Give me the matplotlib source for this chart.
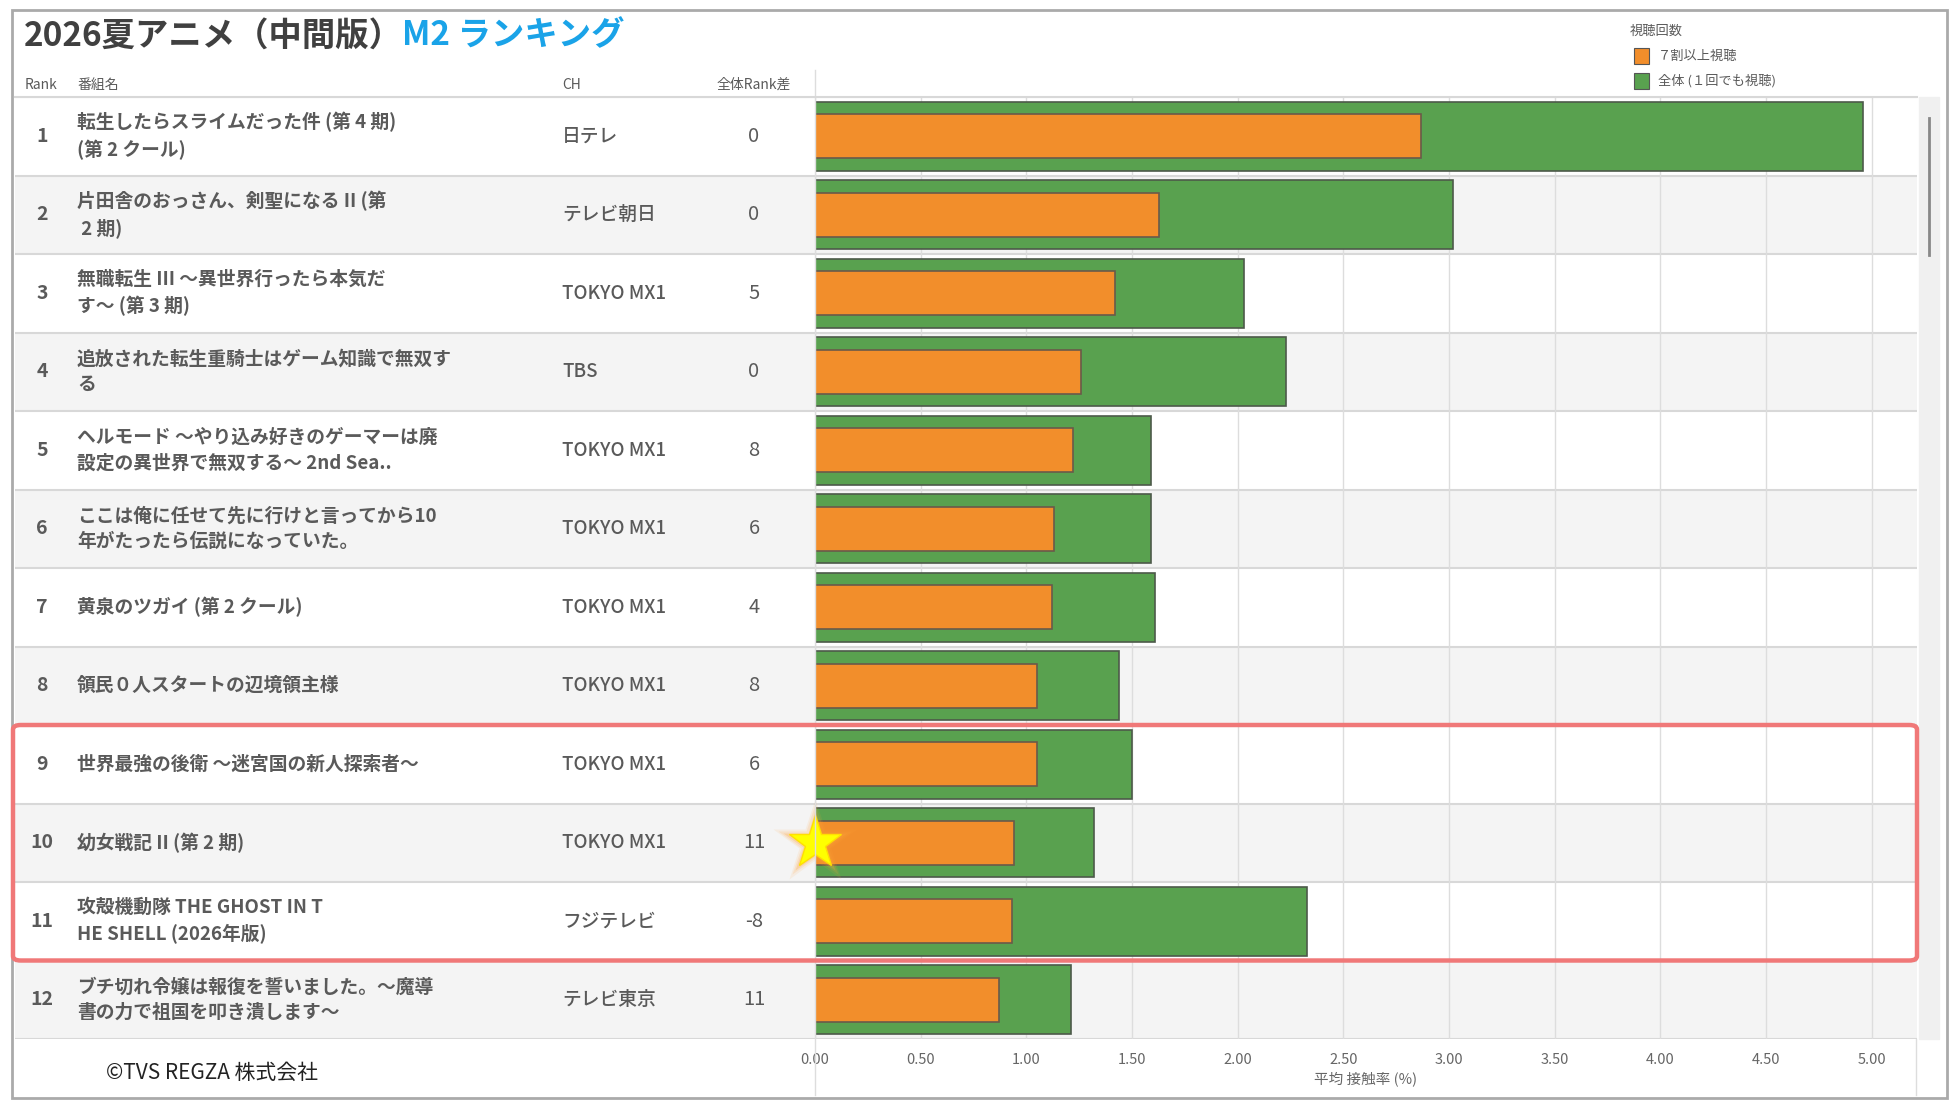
import matplotlib.pyplot as plt
from matplotlib.patches import FancyBboxPatch, Rectangle
from matplotlib.lines import Line2D

plt.rcParams['font.family'] = ['Noto Sans CJK JP', 'DejaVu Sans']

# ---- data ----
ranks = [1, 2, 3, 4, 5, 6, 7, 8, 9, 10, 11, 12]
titles = [
    "転生したらスライムだった件 (第 4 期)\n(第 2 クール)",
    "片田舎のおっさん、剣聖になる II (第\n 2 期)",
    "無職転生 III ～異世界行ったら本気だ\nす～ (第 3 期)",
    "追放された転生重騎士はゲーム知識で無双す\nる",
    "ヘルモード ～やり込み好きのゲーマーは廃\n設定の異世界で無双する～ 2nd Sea..",
    "ここは俺に任せて先に行けと言ってから10\n年がたったら伝説になっていた。",
    "黄泉のツガイ (第 2 クール)",
    "領民０人スタートの辺境領主様",
    "世界最強の後衛 ～迷宮国の新人探索者～",
    "幼女戦記 II (第 2 期)",
    "攻殻機動隊 THE GHOST IN T\nHE SHELL (2026年版)",
    "ブチ切れ令嬢は報復を誓いました。～魔導\n書の力で祖国を叩き潰します～",
]
channels = ["日テレ", "テレビ朝日", "TOKYO MX1", "TBS", "TOKYO MX1", "TOKYO MX1",
            "TOKYO MX1", "TOKYO MX1", "TOKYO MX1", "TOKYO MX1", "フジテレビ", "テレビ東京"]
rank_diff = [0, 0, 5, 0, 8, 6, 4, 8, 6, 11, -8, 11]
rate_70 = [2.87, 1.63, 1.42, 1.26, 1.22, 1.13, 1.12, 1.05, 1.05, 0.94, 0.93, 0.87]
rate_all = [4.96, 3.02, 2.03, 2.23, 1.59, 1.59, 1.61, 1.44, 1.50, 1.32, 2.33, 1.21]
ticks = [0, 0.5, 1.0, 1.5, 2.0, 2.5, 3.0, 3.5, 4.0, 4.5, 5.0]
legend_title = "視聴回数"
legend_labels = ["７割以上視聴", "全体 (１回でも視聴)"]
highlight_rows = [9, 10, 11]
star_row = 10

ORANGE = '#F28E2B'
GREEN = '#59A14F'
TXT = '#5a5a5a'

W, H = 1950, 1100
fig = plt.figure(figsize=(W / 100, H / 100), dpi=100)

def fx(px):
    return px / W

def fy(py):
    return 1 - py / H

n = len(ranks)
row_top, row_bot = 97, 1039
x0_px, x1_px = 815, 1916
xmax = (x1_px - x0_px) / 211.3

# background bands over table + bars
bg = fig.add_axes([fx(15), fy(row_bot), fx(1917 - 15), fy(row_top) - fy(row_bot)])
bg.set_xlim(0, 1)
bg.set_ylim(n - 0.5, -0.5)
bg.axis('off')
for i in range(n):
    bg.axhspan(i - 0.5, i + 0.5, color='white' if i % 2 == 0 else '#f4f4f4', zorder=0)
    bg.axhline(i - 0.5, color='#d8d8d8', lw=1.5, zorder=1)
bg.axhline(n - 0.5, color='#d8d8d8', lw=1.5, zorder=1)

# table text
tx = lambda px: (px - 15) / (1917 - 15)
for i in range(n):
    bg.text(tx(42), i, str(ranks[i]), ha='center', va='center', fontsize=14,
            color=TXT, fontweight='bold')
    bg.text(tx(77), i, titles[i], ha='left', va='center', fontsize=13.5,
            color=TXT, fontweight='bold', linespacing=1.45)
    bg.text(tx(562), i, channels[i], ha='left', va='center', fontsize=13.5,
            color=TXT, fontweight='medium')
    bg.text(tx(754), i, str(rank_diff[i]), ha='center', va='center', fontsize=14.5,
            color=TXT)

# bars
ax = fig.add_axes([fx(x0_px), fy(row_bot), fx(x1_px - x0_px), fy(row_top) - fy(row_bot)])
ax.patch.set_alpha(0)
y = list(range(n))
ax.barh(y, rate_all, height=0.88, color=GREEN, edgecolor='#4d5a4a', lw=1.2, zorder=3)
ax.barh(y, rate_70, height=0.555, color=ORANGE, edgecolor='#6a5a4a', lw=1.2, zorder=4)
ax.set_xlim(0, xmax)
ax.set_ylim(n - 0.5, -0.5)
ax.set_xticks(ticks)
ax.set_xticklabels([f'{t:.2f}' for t in ticks])
ax.tick_params(axis='x', length=0, labelsize=10.5, labelcolor='#666666', pad=10)
ax.set_yticks([])
ax.grid(axis='x', color='#dddddd', lw=1, zorder=1)
for s in ax.spines.values():
    s.set_visible(False)
ax.set_xlabel('平均 接触率 (%)', fontsize=10.5, color='#666666', labelpad=3)

# star marker on highlighted row
si = star_row - 1
for ms, a in [(64, 0.10), (56, 0.15), (48, 0.25)]:
    ax.plot(0, si, marker='*', ms=ms, color='#ffa53a', alpha=a, mec='none',
            clip_on=False, zorder=6)
ax.plot(0, si, marker='*', ms=40, color='#ffff00', mec='#ffe000', clip_on=False, zorder=7)

# vertical separators
fig.add_artist(Line2D([fx(x0_px)] * 2, [fy(70), fy(1095)], color='#dddddd', lw=1))
fig.add_artist(Line2D([fx(x1_px)] * 2, [fy(row_bot), fy(1095)], color='#dddddd', lw=1))
fig.add_artist(Line2D([fx(15), fx(1917)], [fy(row_top)] * 2, color='#d8d8d8', lw=1.5))

# scrollbar
fig.add_artist(Rectangle((fx(1919), fy(row_bot)), fx(20), fy(row_top) - fy(row_bot),
                         color='#f0f0f0', transform=fig.transFigure))
fig.add_artist(Line2D([fx(1929)] * 2, [fy(118), fy(255)], color='#888888', lw=2))

# highlight box for rows 9-11
hb_top = row_top + (highlight_rows[0] - 1) * (row_bot - row_top) / n
hb_bot = row_top + highlight_rows[-1] * (row_bot - row_top) / n
fig.add_artist(FancyBboxPatch((fx(13), fy(hb_bot)), fx(1917 - 13), fy(hb_top) - fy(hb_bot),
                              boxstyle='round,pad=0,rounding_size=0.004',
                              transform=fig.transFigure, fill=False,
                              edgecolor='#f07878', lw=3.2, zorder=10))

# header
hy = fy(85)
fig.text(fx(25), hy, 'Rank', fontsize=10, color=TXT, va='center')
fig.text(fx(77), hy, '番組名', fontsize=10, color=TXT, va='center')
fig.text(fx(562), hy, 'CH', fontsize=10, color=TXT, va='center')
fig.text(fx(754), hy, '全体Rank差', fontsize=10, color=TXT, va='center', ha='center')

# title
fig.text(fx(24), fy(36), '2026夏アニメ（中間版）', fontsize=24, fontweight='bold',
         color='#404040', va='center')
fig.text(fx(402), fy(36), 'M2 ランキング', fontsize=24, fontweight='bold',
         color='#1aa3e8', va='center')

# legend
fig.text(fx(1630), fy(31), legend_title, fontsize=9.5, color=TXT, va='center')
for k, (lab, col) in enumerate(zip(legend_labels, [ORANGE, GREEN])):
    ly = 56 + k * 25
    fig.add_artist(Rectangle((fx(1634), fy(ly + 8)), fx(15), fy(ly - 8) - fy(ly + 8),
                             facecolor=col, edgecolor='#555555', lw=0.8,
                             transform=fig.transFigure))
    fig.text(fx(1658), fy(ly), lab, fontsize=9.5, color=TXT, va='center')

# copyright
fig.text(fx(106), fy(1073), '©TVS REGZA 株式会社', fontsize=15, color='#222222', va='center')

# outer border
fig.add_artist(Rectangle((fx(12), fy(1098)), fx(1947 - 12), fy(10) - fy(1098),
                         fill=False, edgecolor='#aaaaaa', lw=2, transform=fig.transFigure))

fig.savefig('out.png', dpi=100, facecolor='white')
